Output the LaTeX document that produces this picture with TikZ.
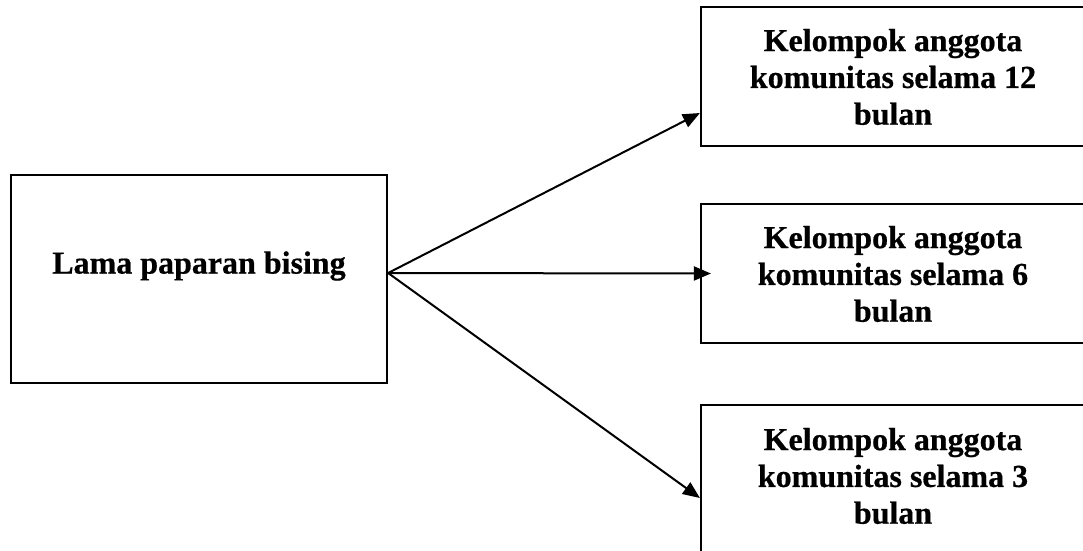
\documentclass[tikz,border=0pt]{standalone}
\usepackage{fontspec}
\setmainfont{Liberation Serif}[BoldFeatures={FakeBold=0.6}]
\usetikzlibrary{arrows.meta}
\tikzset{
  box/.style={draw=black, line width=2.2pt, rectangle, inner sep=0pt},
  lbl/.style={inner sep=0pt, align=center, font=\bfseries\fontsize{32}{36.8}\selectfont},
  arr/.style={line width=2pt, -{Triangle[length=17pt,width=14pt]}}
}
\begin{document}
\begin{tikzpicture}[x=1pt,y=-1pt]
\useasboundingbox (0,0) rectangle (1083,550);
\node[box, minimum width=376pt, minimum height=208pt] (L) at (199,279) {};
\node[lbl] (Ltxt) at (199,266) {Lama paparan bising};
\node[box, minimum width=460pt, minimum height=139pt] (A) at (931,76.5) {};
\node[lbl] (Atxt) at (893,77) {Kelompok anggota\\komunitas selama 12\\bulan};
\node[box, minimum width=460pt, minimum height=139pt] (B) at (931,273.5) {};
\node[lbl] (Btxt) at (893,274) {Kelompok anggota\\komunitas selama 6\\bulan};
\node[box, minimum width=460pt, minimum height=170pt] (C) at (931,490) {};
\node[lbl] (Ctxt) at (893,476) {Kelompok anggota\\komunitas selama 3\\bulan};
\draw[arr] ([yshift=6pt]L.east) -- ([yshift=-36.5pt]A.west);
\draw[arr] ([yshift=6pt]L.east) -- ([xshift=11pt]B.west);
\draw[arr] ([yshift=6pt]L.east) -- ([yshift=-8pt]C.west);
\end{tikzpicture}
\end{document}
